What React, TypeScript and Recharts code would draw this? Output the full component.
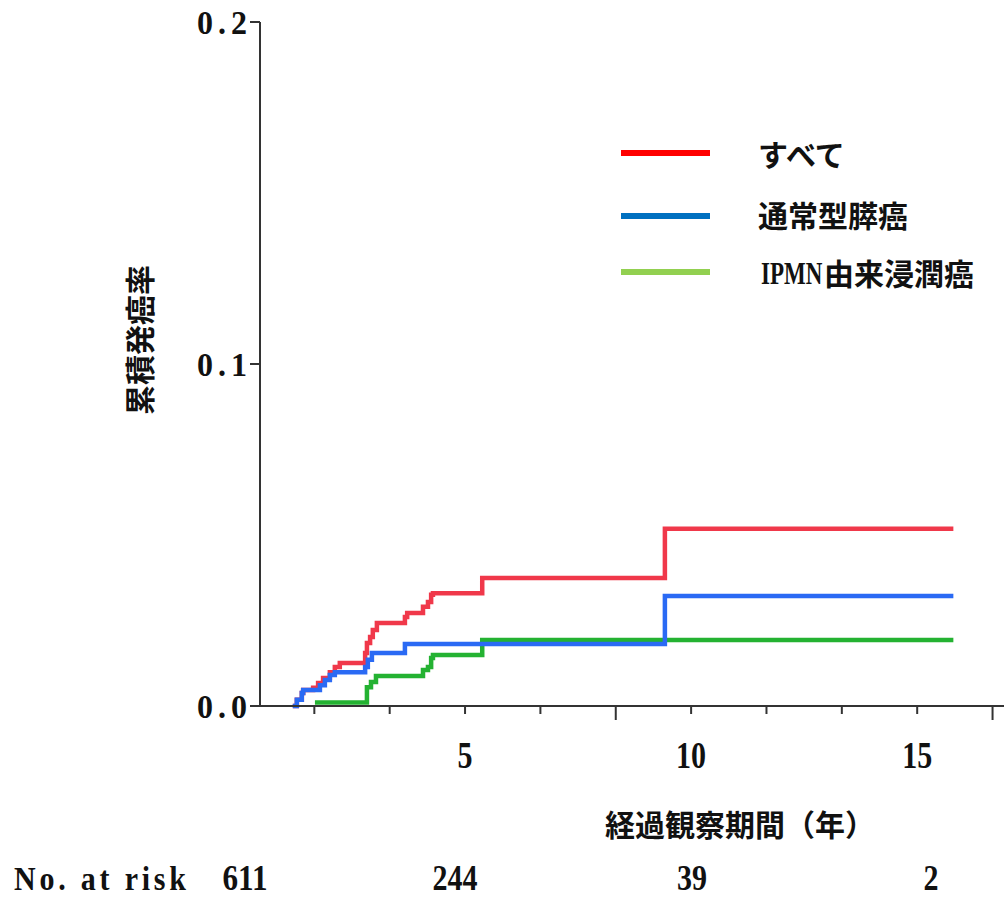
import React from "react";
import { LineChart, Line, XAxis, YAxis, Legend } from "recharts";

// series names / colours
const seriesNames = ["すべて", "通常型膵癌", "IPMN由来浸潤癌"];
const lineColors = ["#F0384A", "#2A6AF4", "#24B232"];
const legendColors = ["#FF0000", "#0070C0", "#92D050"];

// すべて (years, cumulative rate)
const allYears = [1.19, 1.28, 1.39, 1.42, 1.64, 1.75, 1.86, 2.01, 2.12, 2.23, 2.79, 2.83, 2.9, 2.96, 3.05, 3.67, 3.72, 4.07, 4.18, 4.25, 4.29, 5.38, 9.42, 15.8];
const allRates = [0, 0.0018, 0.0038, 0.0047, 0.0053, 0.0067, 0.0082, 0.0099, 0.0114, 0.0126, 0.0155, 0.0184, 0.0202, 0.0222, 0.0243, 0.026, 0.0272, 0.029, 0.0304, 0.0325, 0.033, 0.0374, 0.0518, 0.0518];

// 通常型膵癌
const ductalYears = [1.19, 1.28, 1.39, 1.42, 1.79, 1.9, 2.01, 2.12, 2.79, 2.85, 2.94, 3.67, 9.42, 15.8];
const ductalRates = [0, 0.0018, 0.0038, 0.0047, 0.0061, 0.0076, 0.0091, 0.0099, 0.0114, 0.0135, 0.0155, 0.0181, 0.0322, 0.0322];

// IPMN由来浸潤癌
const ipmnYears = [1.68, 2.83, 2.92, 3.03, 4.07, 4.18, 4.25, 4.29, 5.38, 15.8];
const ipmnRates = [0.001, 0.0055, 0.007, 0.0088, 0.0105, 0.0114, 0.014, 0.0149, 0.0193, 0.0193];

// axes
const xDomain = [0.465, 16.92];
const xTicks = [5 / 3, 10 / 3, 5, 20 / 3, 25 / 3, 10, 35 / 3, 40 / 3, 15, 50 / 3];
const xLongTicks = [25 / 3, 50 / 3];
const xLabelTicks = [5, 10, 15];
const yTicks = [0, 0.1, 0.2];
const xTitle = "経過観察期間（年）";
const yTitle = "累積発癌率";

// number at risk
const riskLabel = "No. at risk";
const riskCounts = [611, 244, 39, 2];

const toRows = (xs: number[], ys: number[]) => xs.map((t, i) => ({ t, v: ys[i] }));
const seriesData = [toRows(allYears, allRates), toRows(ductalYears, ductalRates), toRows(ipmnYears, ipmnRates)];

const axisColor = "#333";
const serifFont = "'Liberation Serif', 'DejaVu Serif', serif";
const jpFont = "'Noto Sans CJK JP', sans-serif";
const ink = "#111";

const near = (a: number, b: number) => Math.abs(a - b) < 1e-6;

function XTick(props: any) {
    const { x, y, payload } = props;
    const v = payload.value;
    const long = xLongTicks.some((t) => near(t, v));
    const lab = xLabelTicks.find((t) => near(t, v));
    return (
        <g>
            <line x1={x} y1={y} x2={x} y2={y + (long ? 14 : 8)} stroke={axisColor} strokeWidth={2} />
            {lab !== undefined && (
                <text
                    transform={`translate(${x},${y + 62}) scale(1,1.3)`}
                    textAnchor="middle"
                    fontFamily={serifFont}
                    fontWeight="bold"
                    fontSize={29}
                    textLength={String(lab).length * 15}
                    lengthAdjust="spacingAndGlyphs"
                    fill={ink}
                >
                    {lab}
                </text>
            )}
        </g>
    );
}

function YTick(props: any) {
    const { x, y, payload } = props;
    return (
        <text
            transform={`translate(${x},${y}) scale(1,1.05)`}
            y={11}
            textAnchor="end"
            fontFamily={serifFont}
            fontWeight="bold"
            fontSize={32}
            textLength={50}
            lengthAdjust="spacing"
            fill={ink}
        >
            {Number(payload.value).toFixed(1)}
        </text>
    );
}

function LegendBox() {
    const rows = [25, 88, 144];
    const base = [38, 99, 157];
    return (
        <svg width={390} height={175}>
            {seriesNames.map((name, i) => (
                <g key={name}>
                    <line x1={6} x2={95} y1={rows[i]} y2={rows[i]} stroke={legendColors[i]} strokeWidth={6} />
                    {name.startsWith("IPMN") ? (
                        <g>
                            <text
                                transform={`translate(146,${base[i] - 1}) scale(1,1.4)`}
                                fontFamily={serifFont}
                                fontWeight="bold"
                                fontSize={23}
                                fill={ink}
                            >
                                IPMN
                            </text>
                            <text x={209} y={base[i]} fontFamily={jpFont} fontWeight="bold" fontSize={30} fill={ink}>
                                {name.slice(4)}
                            </text>
                        </g>
                    ) : (
                        <text x={143} y={base[i]} fontFamily={jpFont} fontWeight="bold" fontSize={30} fill={ink}>
                            {name}
                        </text>
                    )}
                </g>
            ))}
        </svg>
    );
}

export default function App() {
    const riskX = [245, 455, 692, 931];
    return (
        <div style={{ position: "absolute", left: 0, top: 0, width: 1006, height: 902, background: "#fff" }}>
            <LineChart width={1006} height={902} margin={{ top: 22, right: 2, bottom: 136, left: 140 }}>
                <XAxis
                    type="number"
                    dataKey="t"
                    domain={xDomain}
                    allowDataOverflow
                    ticks={xTicks}
                    interval={0}
                    tickSize={0}
                    tickMargin={0}
                    tickLine={false}
                    tick={<XTick />}
                    height={60}
                    axisLine={{ stroke: axisColor, strokeWidth: 2 }}
                />
                <YAxis
                    type="number"
                    domain={[0, 0.2]}
                    ticks={yTicks}
                    interval={0}
                    width={120}
                    tickSize={10}
                    tickMargin={3}
                    tick={<YTick />}
                    tickLine={{ stroke: axisColor, strokeWidth: 2 }}
                    axisLine={{ stroke: axisColor, strokeWidth: 2 }}
                />
                {[0, 2, 1].map((i) => (
                    <Line
                        key={seriesNames[i]}
                        data={seriesData[i]}
                        dataKey="v"
                        name={seriesNames[i]}
                        type="stepAfter"
                        stroke={lineColors[i]}
                        strokeWidth={4.5}
                        dot={false}
                        activeDot={false}
                        isAnimationActive={false}
                    />
                ))}
                <Legend
                    layout="vertical"
                    align="center"
                    verticalAlign="middle"
                    wrapperStyle={{ position: "absolute", left: 615, top: 128, width: 390, height: 175 }}
                    content={() => <LegendBox />}
                />
            </LineChart>
            <svg width={1006} height={902} style={{ position: "absolute", left: 0, top: 0, pointerEvents: "none" }}>
                <text x={740} y={836} textAnchor="middle" fontFamily={jpFont} fontWeight="bold" fontSize={30} fill={ink}>
                    {xTitle}
                </text>
                <g transform="translate(140,340) rotate(-90)">
                    <text x={0} y={11} textAnchor="middle" fontFamily={jpFont} fontWeight="bold" fontSize={30} fill={ink}>
                        {yTitle}
                    </text>
                </g>
                <text
                    transform="translate(14,890) scale(1,1.1)"
                    fontFamily={serifFont}
                    fontWeight="bold"
                    fontSize={30}
                    textLength={172}
                    lengthAdjust="spacing"
                    fill={ink}
                >
                    {riskLabel}
                </text>
                {riskCounts.map((n, i) => (
                    <text
                        key={n}
                        transform={`translate(${riskX[i]},890) scale(1,1.3)`}
                        textAnchor="middle"
                        fontFamily={serifFont}
                        fontWeight="bold"
                        fontSize={27}
                        textLength={String(n).length * 15}
                        lengthAdjust="spacingAndGlyphs"
                        fill={ink}
                    >
                        {n}
                    </text>
                ))}
            </svg>
        </div>
    );
}
